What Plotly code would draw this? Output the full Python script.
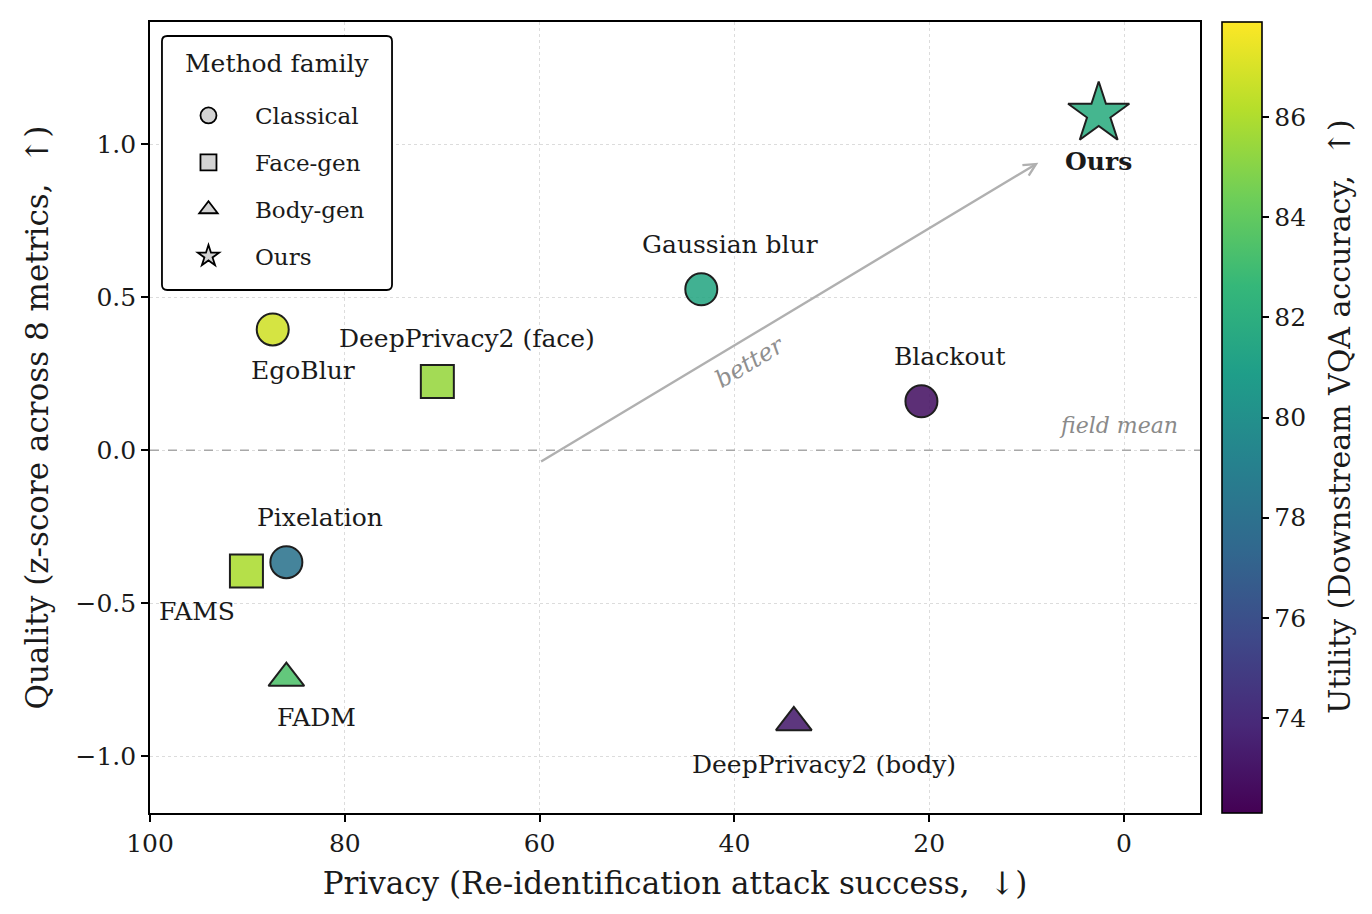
import plotly.graph_objects as go

# ---- data ----
methods = ["EgoBlur", "Gaussian blur", "Blackout", "Pixelation",
           "DeepPrivacy2 (face)", "FAMS", "FADM", "DeepPrivacy2 (body)", "Ours"]
family = ["Classical", "Classical", "Classical", "Classical",
          "Face-gen", "Face-gen", "Body-gen", "Body-gen", "Ours"]
privacy = [87.4, 43.4, 20.8, 86.0, 70.5, 90.1, 86.0, 33.9, 2.6]
quality = [0.395, 0.526, 0.160, -0.366, 0.225, -0.395, -0.745, -0.89, 1.10]
utility = [86.8, 81.5, 72.9, 78.2, 85.4, 85.9, 83.4, 73.3, 81.9]

families = ["Classical", "Face-gen", "Body-gen", "Ours"]
symbols = {"Classical": "circle", "Face-gen": "square",
           "Body-gen": "triangle-up", "Ours": "star"}
sizes = {"Classical": 32, "Face-gen": 33, "Body-gen": 31, "Ours": 46}

# label offsets (data units)
label_dx = [-3.1, -2.95, -2.95, -3.5, -3.05, 5.1, -3.05, -3.1, 0.0]
label_dy = [-0.134, 0.147, 0.147, 0.147, 0.141, -0.131, -0.128, -0.136, -0.156]

FONT = "DejaVu Serif"
TXT = "#1a1a1a"

fig = go.Figure()

for fam in families:
    idx = [i for i, f in enumerate(family) if f == fam]
    fig.add_trace(go.Scatter(
        x=[privacy[i] for i in idx],
        y=[quality[i] for i in idx],
        mode="markers",
        showlegend=False,
        hovertext=[methods[i] for i in idx],
        marker=dict(
            symbol=symbols[fam],
            size=sizes[fam],
            color=[utility[i] for i in idx],
            coloraxis="coloraxis",
            opacity=0.88,
            line=dict(color="black", width=2),
        ),
    ))

# legend proxies
for k, fam in enumerate(families):
    fig.add_trace(go.Scatter(
        x=[None], y=[None], mode="markers", name=fam, legendgroup="g%d" % k,
        marker=dict(symbol=symbols[fam], size=22, color="#d3d3d3",
                    line=dict(color="black", width=1.8)),
    ))

# labels
for i, m in enumerate(methods):
    fig.add_annotation(
        x=privacy[i] + label_dx[i], y=quality[i] + label_dy[i],
        text=("<b>%s</b>" % m) if m == "Ours" else m,
        showarrow=False, xanchor="center", yanchor="middle",
        font=dict(family=FONT, size=25, color=TXT),
    )

# field mean line
fig.add_shape(type="line", xref="paper", x0=0, x1=1, y0=0, y1=0,
              line=dict(color="#a8a8a8", width=1.6, dash="dash"))
fig.add_annotation(xref="paper", x=0.981, y=0.082, text="<i>field mean</i>",
                   showarrow=False, xanchor="right", yanchor="middle",
                   font=dict(family=FONT, size=22, color="#8a8a8a"))

# better arrow
fig.add_annotation(x=8.8, y=0.94, ax=60, ay=-0.04, xref="x", yref="y",
                   axref="x", ayref="y", text="", showarrow=True,
                   arrowhead=5, arrowsize=1.0, arrowwidth=2.4, arrowcolor="#b0b0b0")
fig.add_annotation(x=38.4, y=0.288, text="<i>better</i>", showarrow=False,
                   textangle=-31, font=dict(family=FONT, size=24, color="#8f8f8f"))

# legend frame (rounded) + title
x0, x1, y0, y1 = 0.0114, 0.2305, 0.6612, 0.9823
rx, ry = 0.005, 0.0066
path = (f"M {x0+rx},{y1} L {x1-rx},{y1} Q {x1},{y1} {x1},{y1-ry} "
        f"L {x1},{y0+ry} Q {x1},{y0} {x1-rx},{y0} L {x0+rx},{y0} "
        f"Q {x0},{y0} {x0},{y0+ry} L {x0},{y1-ry} Q {x0},{y1} {x0+rx},{y1} Z")
fig.add_shape(type="path", path=path, xref="paper", yref="paper",
              fillcolor="white", line=dict(color="black", width=1.8), layer="above")
fig.add_annotation(xref="paper", yref="paper", x=(x0 + x1) / 2, y=0.947,
                   text="Method family", showarrow=False,
                   xanchor="center", yanchor="middle",
                   font=dict(family=FONT, size=25, color=TXT))

grid = dict(showgrid=True, gridcolor="#dcdcdc", griddash="dot", gridwidth=1)

fig.update_layout(
    width=1360, height=900,
    plot_bgcolor="white", paper_bgcolor="white",
    margin=dict(l=142, r=168, t=14, b=95, autoexpand=False),
    font=dict(family=FONT, size=25, color=TXT),
    xaxis=dict(range=[100, -7.8], tickvals=[100, 80, 60, 40, 20, 0],
               ticks="outside", ticklen=7, tickcolor="black", tickwidth=1.5,
               showline=True, linecolor="black", linewidth=1.6, mirror=True,
               zeroline=False, tickfont=dict(size=25),
               title=dict(text="Privacy (Re-identification attack success,  ↓)",
                          font=dict(size=31), standoff=16),
               **grid),
    yaxis=dict(range=[-1.186, 1.4], tickvals=[-1.0, -0.5, 0.0, 0.5, 1.0],
               ticktext=["−1.0", "−0.5", "0.0", "0.5", "1.0"],
               ticks="outside", ticklen=7, tickcolor="black", tickwidth=1.5,
               showline=True, linecolor="black", linewidth=1.6, mirror=True,
               zeroline=False, tickfont=dict(size=25),
               title=dict(text="Quality (z-score across 8 metrics,  ↑)",
                          font=dict(size=31), standoff=18),
               **grid),
    coloraxis=dict(
        colorscale="Viridis", cmin=72.1, cmax=87.9,
        colorbar=dict(
            x=1.0, xref="paper", xanchor="left", xpad=22, ypad=0,
            thickness=40, len=1.0, lenmode="fraction", y=0.5, yanchor="middle",
            outlinecolor="black", outlinewidth=1.6,
            tickvals=[74, 76, 78, 80, 82, 84, 86],
            ticks="outside", ticklen=7, tickcolor="black", tickwidth=1.5,
            tickfont=dict(family=FONT, size=25),
        ),
    ),
    legend=dict(
        x=0.0114, y=0.909, xanchor="left", yanchor="top",
        bgcolor="rgba(0,0,0,0)", borderwidth=0,
        font=dict(family=FONT, size=23),
        itemsizing="trace", tracegroupgap=14,
        itemwidth=83,
    ),
)

# colorbar title as rotated annotation
fig.add_annotation(xref="paper", yref="paper", x=1.1333, y=0.502,
                   text="Utility (Downstream VQA accuracy,  ↑)", textangle=-90,
                   showarrow=False, xanchor="center", yanchor="middle",
                   font=dict(family=FONT, size=30, color=TXT))

fig.write_html("out.html")
